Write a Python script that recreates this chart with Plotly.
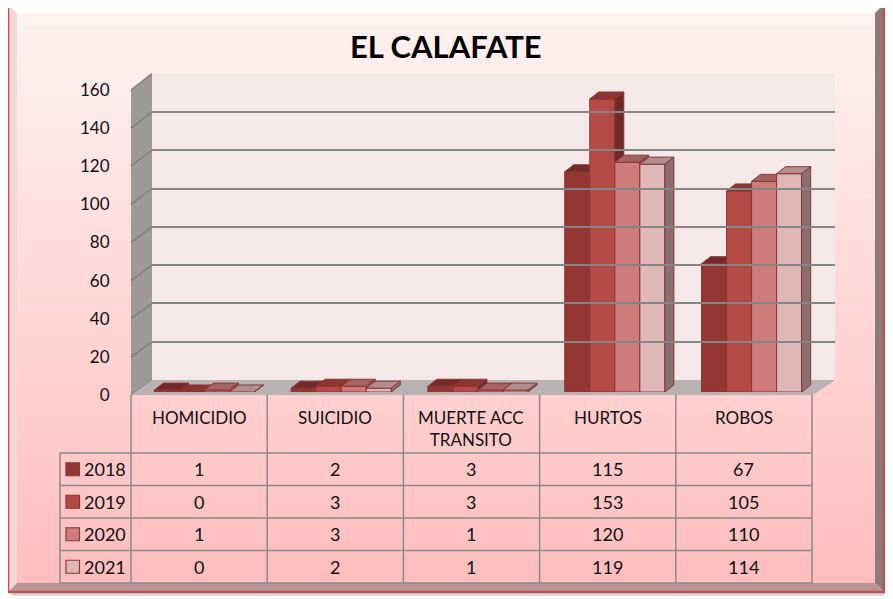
import plotly.graph_objects as go

W, H = 893, 599
OFF = 8  # page body margin the browser puts around the figure

title = "EL CALAFATE"
categories = ["HOMICIDIO", "SUICIDIO", "MUERTE ACC<br>TRANSITO", "HURTOS", "ROBOS"]
years = ["2018", "2019", "2020", "2021"]
v2018 = [1, 2, 3, 115, 67]
v2019 = [0, 3, 3, 153, 105]
v2020 = [1, 3, 1, 120, 110]
v2021 = [0, 2, 1, 119, 114]
y_ticks = [0, 20, 40, 60, 80, 100, 120, 140, 160]

series = [v2018, v2019, v2020, v2021]
front = ["#943634", "#b34a46", "#cd7b7b", "#dfb7b7"]
top_c = ["#76292a", "#8c3532", "#a56262", "#b08f8f"]
side_c = ["#6e2624", "#722a28", "#8e5a5a", "#8a7070"]
edge = "#8c3535"
font = "Lato"


def px(x):
    return (x - OFF) / W


def py(y):
    return 1 - (y - OFF) / H


fig = go.Figure()

# bars, one overlay per year so each bar's faces stack in painter order
bw = 0.183
dx = 9 / 136.8
dy = 7 / (306.4 / 160)
ynames = ["y", "y2", "y3", "y4"]
for i, vals in enumerate(series):
    off = -2 * bw + i * bw
    xs = list(range(len(categories)))
    fig.add_trace(go.Bar(x=xs, y=vals, width=bw, offset=off, yaxis=ynames[i],
                         marker=dict(color=front[i], line=dict(color=edge, width=1)),
                         name=years[i], showlegend=False))
    for c, v in zip(xs, vals):
        xl = c + off
        xr = xl + bw
        fig.add_trace(go.Scatter(x=[xl, xl + dx, xr + dx, xr, xl], y=[v, v + dy, v + dy, v, v],
                                 yaxis=ynames[i], mode="lines", fill="toself",
                                 fillcolor=top_c[i], line=dict(color=edge, width=1),
                                 hoverinfo="skip", showlegend=False))
        fig.add_trace(go.Scatter(x=[xr, xr + dx, xr + dx, xr, xr], y=[0, dy, v + dy, v, 0],
                                 yaxis=ynames[i], mode="lines", fill="toself",
                                 fillcolor=side_c[i], line=dict(color=edge, width=1),
                                 hoverinfo="skip", showlegend=False))

# empty traces so the wall and label axes get drawn
fig.add_trace(go.Scatter(x=[None], y=[None], xaxis="x5", yaxis="y5", showlegend=False))
fig.add_trace(go.Scatter(x=[None], y=[None], xaxis="x5", yaxis="y6", showlegend=False))

shapes = []
# background gradient
top_rgb = (255, 242, 242)
bot_rgb = (255, 190, 190)
n = 40
y0, y1 = 12, 584
for k in range(n):
    t = k / (n - 1)
    r = int(top_rgb[0] + (bot_rgb[0] - top_rgb[0]) * t)
    g = int(top_rgb[1] + (bot_rgb[1] - top_rgb[1]) * t)
    b = int(top_rgb[2] + (bot_rgb[2] - top_rgb[2]) * t)
    ya = y0 + (y1 - y0) * k / n
    yb = y0 + (y1 - y0) * (k + 1) / n + 0.6
    shapes.append(dict(type="rect", xref="paper", yref="paper", layer="below",
                       x0=px(16), x1=px(876), y0=py(ya), y1=py(yb),
                       fillcolor=f"rgb({r},{g},{b})", line=dict(width=0)))


def poly(pts, fill, lw=0, lc="rgba(0,0,0,0)"):
    path = "M " + " L ".join(f"{px(a)},{py(b)}" for a, b in pts) + " Z"
    return dict(type="path", xref="paper", yref="paper", layer="below", path=path,
                fillcolor=fill, line=dict(width=lw, color=lc))


# drop shadow + bevel frame
shapes.append(poly([(12, 592), (888, 592), (888, 8), (884, 8), (884, 596), (12, 596)], "#d9d9d9"))
shapes.append(poly([(9, 5), (883, 5), (875, 13), (17, 13)], "#ffffff"))
shapes.append(poly([(9, 5), (17, 13), (17, 583), (9, 591)], "#f6d6d6"))
shapes.append(poly([(883, 5), (883, 591), (875, 583), (875, 13)], "#8f7a7a"))
shapes.append(poly([(9, 591), (883, 591), (875, 583), (17, 583)], "#b89494"))
shapes.append(dict(type="rect", xref="paper", yref="paper", layer="below",
                   x0=px(8), x1=px(884), y0=py(4), y1=py(592),
                   line=dict(color="#c0504d", width=2.5)))

# back wall, side wall, floor
shapes.append(poly([(152, 73.6), (835, 73.6), (835, 380), (152, 380)], "#f4e8e8"))
shapes.append(poly([(131, 90), (152, 73.6), (152, 380), (131, 395)], "#9e9999"))
for t in y_ticks:
    ya = 395 - t * 305 / 160
    yb = 380 - t * 306.4 / 160
    shapes.append(dict(type="line", xref="paper", yref="paper", layer="below",
                       x0=px(131), x1=px(152), y0=py(ya), y1=py(yb),
                       line=dict(color="#7f7f7f", width=1.5)))
shapes.append(poly([(131, 395), (152, 380), (835, 380), (813, 395)], "#b8b2b2"))

# data table grid
col_x = [131 + k * 136.2 for k in range(len(categories) + 1)]
row_y = [453, 485.5, 518, 550.5, 583]
for cx in col_x:
    shapes.append(dict(type="line", xref="paper", yref="paper", x0=px(cx), x1=px(cx),
                       y0=py(395), y1=py(583), line=dict(color="#8a8a8a", width=1.5)))
shapes.append(dict(type="line", xref="paper", yref="paper", x0=px(60), x1=px(60),
                   y0=py(453), y1=py(583), line=dict(color="#8a8a8a", width=1.5)))
for ry in row_y:
    shapes.append(dict(type="line", xref="paper", yref="paper", x0=px(60), x1=px(col_x[-1]),
                       y0=py(ry), y1=py(ry), line=dict(color="#8a8a8a", width=1.5)))

annotations = [dict(text=f"<b>{title}</b>", x=px(446), y=py(46), xref="paper", yref="paper",
                    xanchor="center", yanchor="middle", showarrow=False,
                    font=dict(family=font, size=31, color="#000000"))]
for k, cat in enumerate(categories):
    cx = (col_x[k] + col_x[k + 1]) / 2
    annotations.append(dict(text=cat, x=px(cx), y=py(405), xref="paper", yref="paper",
                            xanchor="center", yanchor="top", showarrow=False,
                            font=dict(family=font, size=17, color="#111111")))
for i, vals in enumerate(series):
    cy = (row_y[i] + row_y[i + 1]) / 2
    shapes.append(dict(type="rect", xref="paper", yref="paper",
                       x0=px(66), x1=px(79.5), y0=py(cy - 6.5), y1=py(cy + 6.5),
                       fillcolor=front[i], line=dict(color="#8c3535", width=1.2)))
    annotations.append(dict(text=years[i], x=px(82), y=py(cy), xref="paper", yref="paper",
                            xanchor="left", yanchor="middle", showarrow=False,
                            font=dict(family=font, size=18, color="#111111")))
    for k, v in enumerate(vals):
        cx = (col_x[k] + col_x[k + 1]) / 2
        annotations.append(dict(text=str(v), x=px(cx), y=py(cy), xref="paper", yref="paper",
                                xanchor="center", yanchor="middle", showarrow=False,
                                font=dict(family=font, size=18, color="#111111")))

hidden = dict(visible=False, fixedrange=True)
fig.update_layout(
    width=W, height=H,
    margin=dict(l=0, r=0, t=0, b=0, pad=0, autoexpand=False),
    paper_bgcolor="#ffffff",
    plot_bgcolor="rgba(0,0,0,0)",
    barmode="overlay",
    showlegend=False,
    xaxis=dict(domain=[px(136), px(820)], range=[-0.5, 4.5], **hidden),
    yaxis=dict(domain=[py(392), py(85.6)], range=[0, 160], **hidden),
    yaxis2=dict(overlaying="y", range=[0, 160], **hidden),
    yaxis3=dict(overlaying="y", range=[0, 160], **hidden),
    yaxis4=dict(overlaying="y", range=[0, 160], **hidden),
    xaxis5=dict(domain=[px(152), px(835)], range=[0, 1], anchor="y5", **hidden),
    yaxis5=dict(domain=[py(380), py(73.6)], range=[0, 160], anchor="x5",
                tickvals=y_ticks, showticklabels=False, showgrid=True,
                gridcolor="#858585", gridwidth=1.5, zeroline=False, showline=False,
                fixedrange=True),
    yaxis6=dict(domain=[py(395), py(90)], range=[0, 160], anchor="free", position=px(131),
                tickvals=y_ticks, showgrid=False, zeroline=False, showline=False,
                ticks="outside", ticklen=18, tickcolor="rgba(0,0,0,0)", automargin=False,
                tickfont=dict(family=font, size=17, color="#111111"), fixedrange=True),
    shapes=shapes,
    annotations=annotations,
)

fig.write_html("out.html")
